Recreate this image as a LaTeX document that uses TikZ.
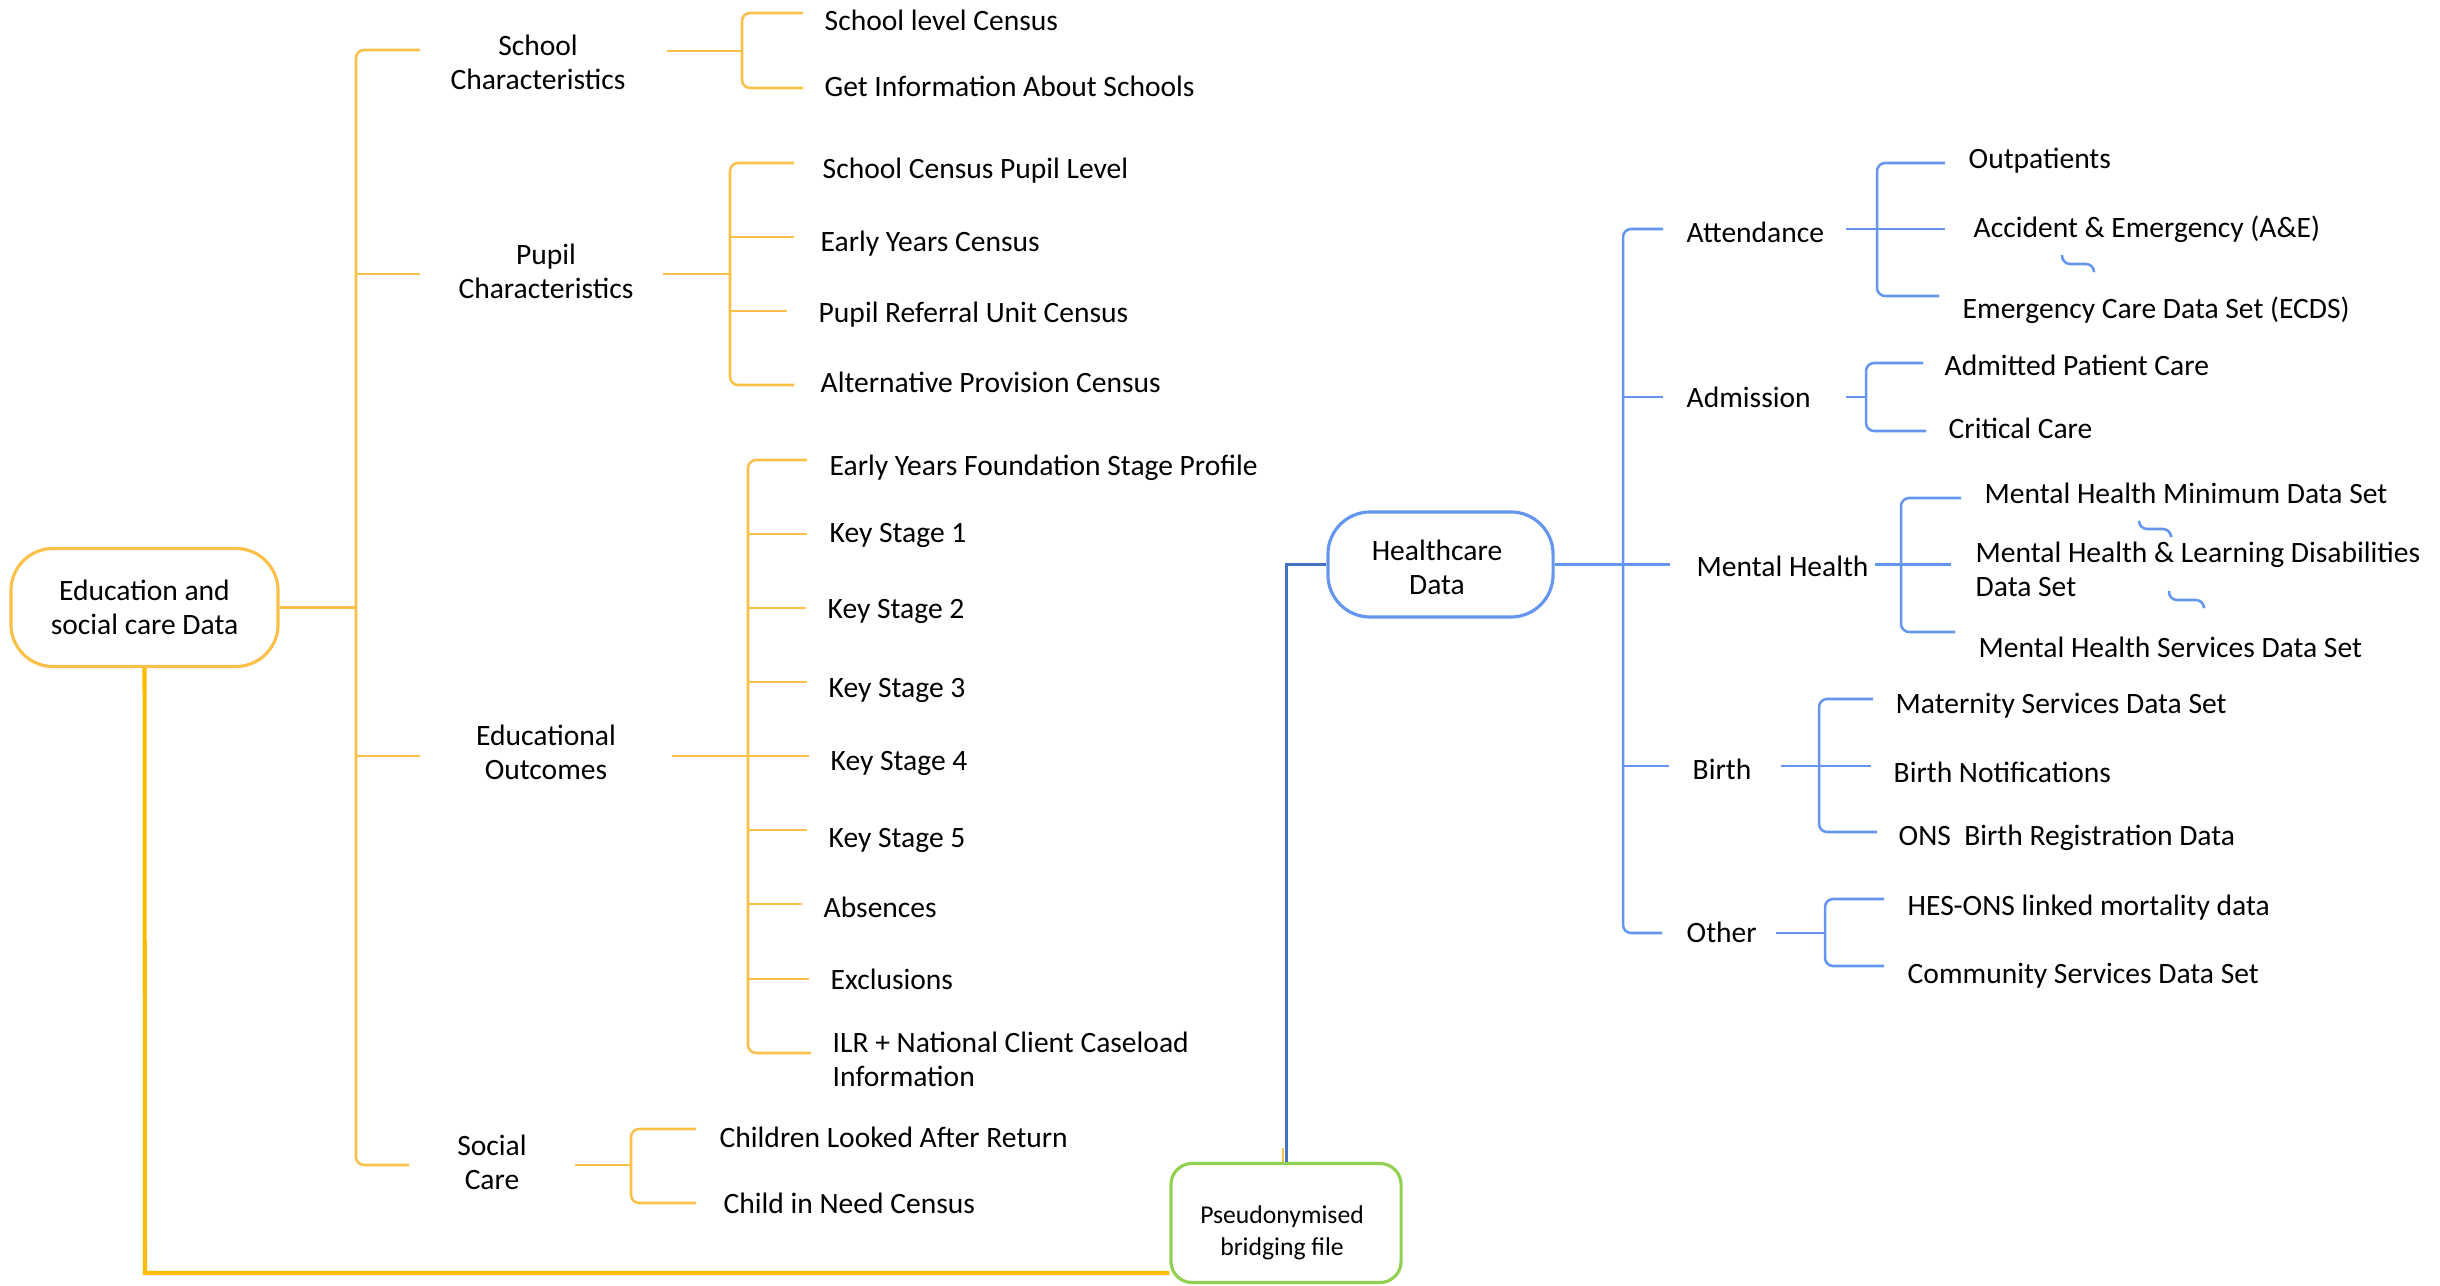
\documentclass[tikz,border=0pt]{standalone}
\usepackage{fontspec}
\setmainfont{Carlito}
\definecolor{org}{RGB}{250,192,72}
\definecolor{orgd}{RGB}{255,187,0}
\definecolor{blu}{RGB}{100,150,240}
\definecolor{blud}{RGB}{68,114,196}
\definecolor{grn}{RGB}{146,208,80}
\newcommand\fs{\fontsize{8.4}{9.7}\selectfont}
\newcommand\fsb{\fontsize{7.3}{9.1}\selectfont}
\begin{document}
\begin{tikzpicture}[x=0.01cm,y=-0.01cm,
  ol/.style={draw=org,line width=0.72pt,rounded corners=2.3pt},
  bl/.style={draw=blu,line width=0.72pt,rounded corners=2.3pt},
  lf/.style={font=\fs,inner sep=0pt,anchor=west,text height=7.4pt,text depth=1.6pt},
  lf2/.style={font=\fs,inner sep=0pt,anchor=west,align=left},
  lb/.style={font=\fs,inner sep=0pt,align=center},
  rootbox/.style={line width=0.9pt,rounded corners=12pt,align=center,font=\fs,fill=white}]
\useasboundingbox (0,0) rectangle (2440,1286);

% ---------------- left tree ----------------
\node[rootbox,draw=org,minimum width=2.67cm,minimum height=1.18cm] (root) at (144.5,607.5) {Education and\\social care Data};

\coordinate (tk) at (356,607.5);
\coordinate (b-sc) at (420,50);
\coordinate (b-pc) at (420,274);
\coordinate (b-eo) at (420,756);
\coordinate (b-so) at (409,1165);
\draw[ol] (root.east) -- (tk);
\draw[ol] (b-sc) -| (tk) |- (b-so);
\draw[ol] (tk |- b-pc) -- (b-pc);
\draw[ol] (tk |- b-eo) -- (b-eo);

\node[lb] (sc) at (538,62) {School\\Characteristics};
\node[lb] (pc) at (546,271.5) {Pupil\\Characteristics};
\node[lb] (eo) at (546,752) {Educational\\Outcomes};
\node[lb] (so) at (492,1162.5) {Social\\Care};

% school characteristics
\coordinate (sc-s) at (667,51); \coordinate (sc-j) at (742,51);
\coordinate (sc-e1) at (803,13); \coordinate (sc-e2) at (803,88);
\draw[ol] (sc-s) -- (sc-j);
\draw[ol] (sc-e1) -| (sc-j) |- (sc-e2);
\node[lf] (slc) at (824,20) {School level Census};
\node[lf] (gias) at (824,86) {Get Information About Schools};

% pupil characteristics
\coordinate (pc-s) at (663,274); \coordinate (pc-j) at (730,274);
\coordinate (pc-e1) at (794,163); \coordinate (pc-e2) at (794,237);
\coordinate (pc-e3) at (787,311); \coordinate (pc-e4) at (794,385);
\draw[ol] (pc-s) -- (pc-j);
\draw[ol] (pc-e1) -| (pc-j) |- (pc-e4);
\draw[ol] (pc-j |- pc-e2) -- (pc-e2);
\draw[ol] (pc-j |- pc-e3) -- (pc-e3);
\node[lf] (scpl) at (822,168) {School Census Pupil Level};
\node[lf] (eyc) at (820,241) {Early Years Census};
\node[lf] (pruc) at (818,312) {Pupil Referral Unit Census};
\node[lf] (apc) at (820,382) {Alternative Provision Census};

% educational outcomes
\coordinate (eo-s) at (672,756); \coordinate (eo-j) at (748,756);
\coordinate (eo-e1) at (807,460); \coordinate (eo-e2) at (807,534);
\coordinate (eo-e3) at (806,608); \coordinate (eo-e4) at (807,682);
\coordinate (eo-e5) at (809,756); \coordinate (eo-e6) at (807,830);
\coordinate (eo-e7) at (802,904); \coordinate (eo-e8) at (809,979);
\coordinate (eo-e9) at (811,1053);
\draw[ol] (eo-s) -- (eo-e5);
\draw[ol] (eo-e1) -| (eo-j) |- (eo-e9);
\draw[ol] (eo-j |- eo-e2) -- (eo-e2);
\draw[ol] (eo-j |- eo-e3) -- (eo-e3);
\draw[ol] (eo-j |- eo-e4) -- (eo-e4);
\draw[ol] (eo-j |- eo-e6) -- (eo-e6);
\draw[ol] (eo-j |- eo-e7) -- (eo-e7);
\draw[ol] (eo-j |- eo-e8) -- (eo-e8);
\node[lf] (eyfsp) at (829,465) {Early Years Foundation Stage Profile};
\node[lf] (ks1) at (829,532) {Key Stage 1};
\node[lf] (ks2) at (827,608) {Key Stage 2};
\node[lf] (ks3) at (828,687) {Key Stage 3};
\node[lf] (ks4) at (830,760) {Key Stage 4};
\node[lf] (ks5) at (828,837) {Key Stage 5};
\node[lf] (abs) at (823,907) {Absences};
\node[lf] (exc) at (830,979) {Exclusions};
\node[lf2] (ilr) at (832,1059.5) {ILR + National Client Caseload\\Information};

% social care
\coordinate (so-s) at (575,1165); \coordinate (so-j) at (631,1165);
\coordinate (so-e1) at (696,1129); \coordinate (so-e2) at (696,1203);
\draw[ol] (so-s) -- (so-j);
\draw[ol] (so-e1) -| (so-j) |- (so-e2);
\node[lf] (clar) at (719,1137) {Children Looked After Return};
\node[lf] (cinc) at (723,1203) {Child in Need Census};

% ---------------- bridging file ----------------
\node[rootbox,draw=grn,rounded corners=6pt,minimum width=2.3cm,minimum height=1.19cm] (br) at (1286,1223) {};
\node[lb,font=\fsb] (brt) at (1282,1233) {Pseudonymised\\bridging file};
\coordinate (bot) at (145,1273);
\draw[orgd,line width=1.15pt] (root.south) -- (bot) -- (bot -| br.west);
\coordinate (stub1) at (1283,1148); \coordinate (stub2) at (1283,1162);
\draw[org,line width=0.6pt] (stub1) -- (stub2);

% ---------------- healthcare tree ----------------
\node[rootbox,draw=blu,minimum width=2.25cm,minimum height=1.05cm] (hc) at (1440.5,564.5) {};
\node[lb] (hct) at (1437,567) {Healthcare\\Data};
\draw[blud,line width=0.85pt] (br.north) |- (hc.west);

\coordinate (rt) at (1623,564.5);
\coordinate (b-at) at (1663,229);
\coordinate (b-ad) at (1663,397);
\coordinate (b-mh) at (1670,564.5);
\coordinate (b-bi) at (1669,766);
\coordinate (b-ot) at (1662,933);
\draw[bl] (hc.east) -- (b-mh);
\draw[bl] (b-at) -| (rt) |- (b-ot);
\draw[bl] (rt |- b-ad) -- (b-ad);
\draw[bl] (rt |- b-bi) -- (b-bi);

\node[lf] (at) at (1686,232) {Attendance};
\node[lf] (ad) at (1686,397) {Admission};
\node[lf] (mh) at (1696,566) {Mental Health};
\node[lf] (bi) at (1692,769) {Birth};
\node[lf] (ot) at (1686,932) {Other};

% attendance
\coordinate (at-s) at (1846,229); \coordinate (at-j) at (1877,229);
\coordinate (at-e1) at (1945,163); \coordinate (at-e2) at (1945,229);
\coordinate (at-e3) at (1939,296);
\draw[bl] (at-s) -- (at-e2);
\draw[bl] (at-e1) -| (at-j) |- (at-e3);
\node[lf] (op) at (1968,158) {Outpatients};
\node[lf] (ae) at (1973,227) {Accident \& Emergency (A\&E)};
\node[lf] (ecds) at (1962,308) {Emergency Care Data Set (ECDS)};
\coordinate (q1a) at (2062,255); \coordinate (q1b) at (2094,272);
\draw[bl] (q1a) -- (q1a |- 0,264) -- (q1b |- 0,264) -- (q1b);

% admission
\coordinate (ad-s) at (1846,397); \coordinate (ad-j) at (1866,397);
\coordinate (ad-e1) at (1923,363); \coordinate (ad-e2) at (1926,431);
\draw[bl] (ad-s) -- (ad-j);
\draw[bl] (ad-e1) -| (ad-j) |- (ad-e2);
\node[lf] (apcare) at (1944,365) {Admitted Patient Care};
\node[lf] (cc) at (1948,428) {Critical Care};

% mental health
\coordinate (mh-s) at (1875,564.5); \coordinate (mh-j) at (1901,564.5);
\coordinate (mh-e1) at (1961,498); \coordinate (mh-e2) at (1951,564.5);
\coordinate (mh-e3) at (1955,632);
\draw[bl] (mh-s) -- (mh-e2);
\draw[bl] (mh-e1) -| (mh-j) |- (mh-e3);
\node[lf] (mhmds) at (1984,493) {Mental Health Minimum Data Set};
\node[lf2] (mhld) at (1975,569) {Mental Health \& Learning Disabilities\\Data Set};
\node[lf] (mhsds) at (1978,647) {Mental Health Services Data Set};
\coordinate (q2a) at (2139,521); \coordinate (q2b) at (2171,535);
\draw[bl] (q2a) -- (q2a |- 0,529) -- (q2b |- 0,529) -- (q2b);
\coordinate (q3a) at (2169,591); \coordinate (q3b) at (2204,607);
\draw[bl] (q3a) -- (q3a |- 0,600) -- (q3b |- 0,600) -- (q3b);

% birth
\coordinate (bi-s) at (1781,766); \coordinate (bi-j) at (1819,766);
\coordinate (bi-e1) at (1873,699); \coordinate (bi-e2) at (1871,766);
\coordinate (bi-e3) at (1877,832);
\draw[bl] (bi-s) -- (bi-e2);
\draw[bl] (bi-e1) -| (bi-j) |- (bi-e3);
\node[lf] (msds) at (1895,703) {Maternity Services Data Set};
\node[lf] (bn) at (1893,772) {Birth Notifications};
\node[lf] (ons) at (1898,835) {ONS\ \ Birth Registration Data};

% other
\coordinate (ot-s) at (1776,933); \coordinate (ot-j) at (1825,933);
\coordinate (ot-e1) at (1884,899); \coordinate (ot-e2) at (1884,966);
\draw[bl] (ot-s) -- (ot-j);
\draw[bl] (ot-e1) -| (ot-j) |- (ot-e2);
\node[lf] (hes) at (1907,905) {HES-ONS linked mortality data};
\node[lf] (csds) at (1907,973) {Community Services Data Set};
\end{tikzpicture}
\end{document}
